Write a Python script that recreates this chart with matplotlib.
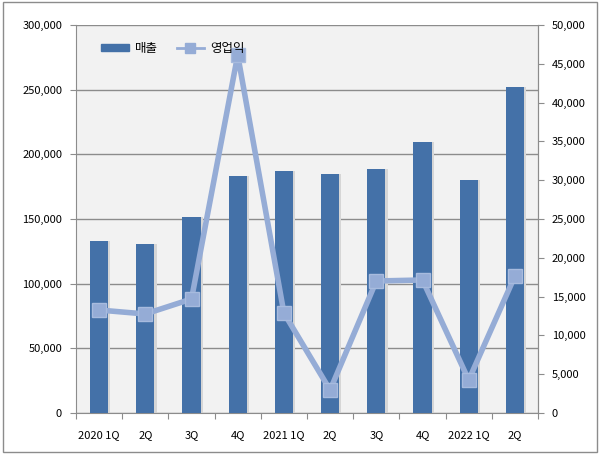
import numpy as np
import matplotlib.pyplot as plt
from matplotlib.lines import Line2D
from matplotlib.patches import Patch
from matplotlib.ticker import FuncFormatter

plt.rcParams['font.family'] = ['Noto Sans CJK KR', 'DejaVu Sans']

quarters = ['2020 1Q', '2Q', '3Q', '4Q', '2021 1Q', '2Q', '3Q', '4Q', '2022 1Q', '2Q']
sales = [133000, 130700, 151500, 183200, 187100, 184800, 188600, 209500, 180200, 252000]
op_profit = [13270, 12760, 14690, 46130, 12890, 2960, 17010, 17140, 4250, 17650]

bar_color = '#4471a8'
line_color = '#95acd6'
grey = '#8c8c8c'

fig = plt.figure(figsize=(6, 4.54), dpi=100)
fig.patch.set_facecolor('white')
ax = fig.add_axes([76 / 600, 41 / 454, 462 / 600, 388 / 454])
ax.set_facecolor('#f2f2f2')

x = np.arange(len(quarters))
# soft shadow behind bars
ax.bar(x + 0.05, sales, width=0.39, color='#d6d6d6', zorder=2)
ax.bar(x, sales, width=0.39, color=bar_color, zorder=3)

ax.set_xlim(-0.5, len(quarters) - 0.5)
ax.set_ylim(0, 300000)
ax.set_yticks(np.arange(0, 300001, 50000))
ax.yaxis.set_major_formatter(FuncFormatter(lambda v, p: f'{int(v):,}'))
ax.grid(axis='y', color=grey, linewidth=1, zorder=1)
ax.set_xticks(np.arange(-0.5, len(quarters), 1))
ax.set_xticklabels([])
ax.set_xticks(x, minor=True)
ax.set_xticklabels(quarters, minor=True)
ax.tick_params(axis='x', which='minor', length=0, pad=12, labelsize=8)
ax.tick_params(axis='x', which='major', length=4, color=grey)
ax.tick_params(axis='y', length=4, color=grey, labelsize=8, pad=6)

ax.spines['top'].set_visible(False)
for s in ['left', 'bottom', 'right']:
    ax.spines[s].set_color(grey)

ax2 = ax.twinx()
ax2.plot(x, op_profit, color=line_color, linewidth=4, marker='s', markersize=10,
         markerfacecolor=line_color, markeredgecolor='#a7bbde', zorder=5)
ax2.set_ylim(0, 50000)
ax2.set_yticks(np.arange(0, 50001, 5000))
ax2.yaxis.set_major_formatter(FuncFormatter(lambda v, p: f'{int(v):,}'))
ax2.tick_params(axis='y', length=4, color=grey, labelsize=8, pad=6)
for s in ['top', 'left', 'bottom']:
    ax2.spines[s].set_visible(False)
ax2.spines['right'].set_color(grey)

handles = [Patch(color=bar_color, label='매출'),
           Line2D([], [], color=line_color, linewidth=2, marker='s', markersize=7,
                  label='영업익')]
leg = ax2.legend(handles=handles, loc='upper left', bbox_to_anchor=(0.03, 0.985), ncol=2,
                 frameon=False, fontsize=9, handlelength=2.2, handleheight=0.45,
                 columnspacing=1.5, handletextpad=0.5)

fig.add_artist(plt.Rectangle((0.005, 0.005), 0.99, 0.99, transform=fig.transFigure,
                             fill=False, edgecolor=grey, linewidth=1))

fig.savefig('out.png', dpi=100)
